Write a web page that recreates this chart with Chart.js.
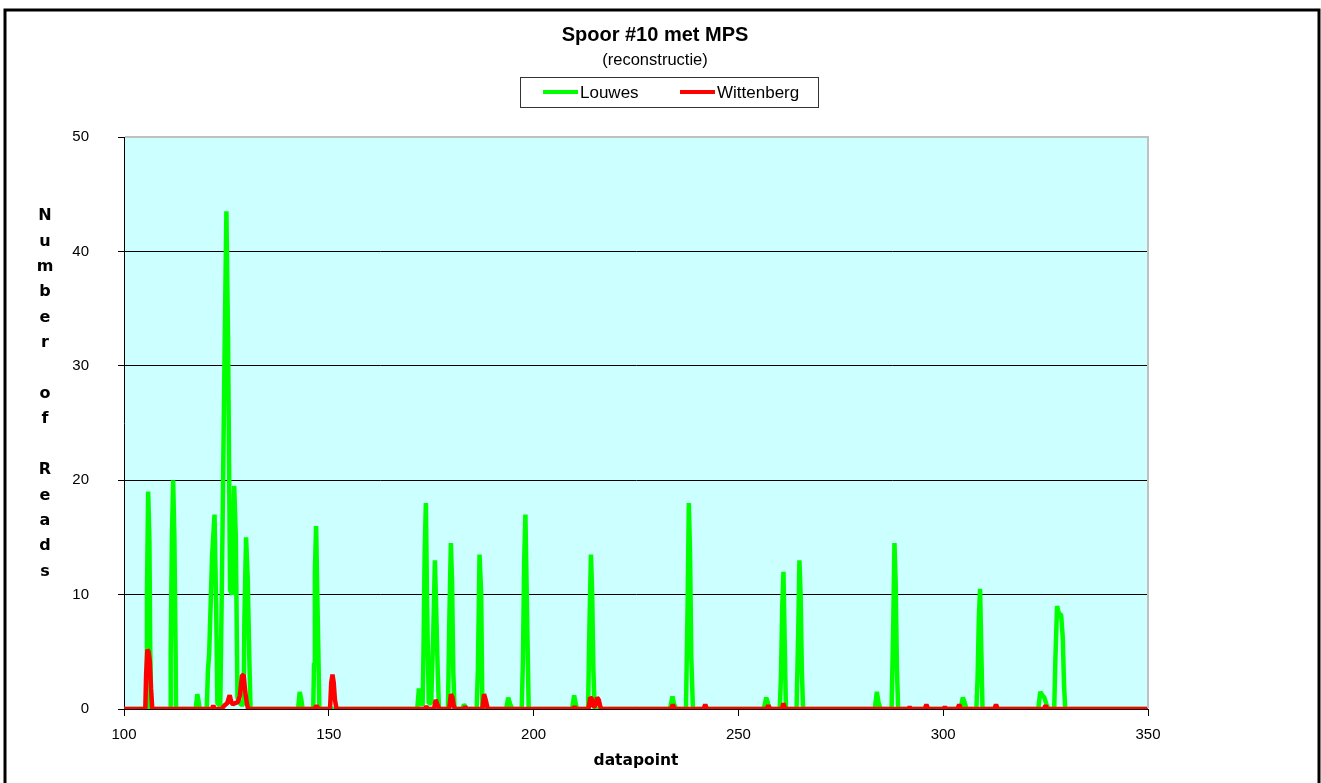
<!DOCTYPE html>
<html>
<head>
<meta charset="utf-8">
<title>Spoor #10 met MPS</title>
<script src="https://cdn.jsdelivr.net/npm/chart.js@4.4.1/dist/chart.umd.min.js"></script>
<style>
  html, body { margin: 0; padding: 0; background: #fff; }
  #chart { display: block; }
</style>
</head>
<body>
<canvas id="chart" width="1321" height="783"></canvas>
<script>
// Texts
const chartTitle = 'Spoor #10 met MPS';
const chartSubtitle = '(reconstructie)';
const xAxisTitle = 'datapoint';
const yAxisTitle = 'Number of Reads';
const seriesNames = ['Louwes', 'Wittenberg'];
const seriesColors = ['#00ff00', '#ff0000'];

// Axis ticks
const xTicks = [100, 150, 200, 250, 300, 350];
const yTicks = [0, 10, 20, 30, 40, 50];

// Louwes series (datapoint, reads)
const louwesX = [100, 105.5, 105.6, 105.9, 106.2, 106.4, 106.6, 111.3, 111.4, 111.7, 112.0, 112.3, 112.6, 112.7,
    117.5, 117.9, 118.3, 118.5, 120.2, 120.5, 120.8, 121.5, 122.1, 122.5, 122.8, 123.5, 123.9, 124.6, 125.0, 125.4,
    125.9, 126.4, 126.9, 127.3, 127.7, 128.5, 129.2, 129.4, 129.8, 130.2, 130.6, 130.9, 142.5, 142.9, 143.3, 143.6,
    146.2, 146.4, 146.6, 146.9, 147.3, 147.7, 171.6, 172.0, 172.4, 172.9, 173.1, 173.4, 173.7, 174.0, 174.4, 175.0,
    175.2, 175.5, 175.9, 176.2, 176.6, 176.9, 179.1, 179.4, 179.8, 180.1, 180.4, 180.7, 182.6, 183.0, 183.6,
    186.1, 186.4, 186.8, 187.2, 187.5, 193.3, 193.8, 194.3, 194.8, 197.1, 197.4, 197.7, 198.0, 198.4, 198.8,
    209.4, 209.9, 210.3, 210.6, 213.3, 213.6, 214.0, 214.3, 214.6, 214.9, 233.3, 233.9, 234.3, 234.8,
    237.2, 237.6, 237.9, 238.2, 238.5, 238.9, 256.2, 256.8, 257.3, 257.7, 260.1, 260.4, 260.7, 261.0, 261.3, 261.6,
    264.2, 264.6, 264.9, 265.2, 265.5, 265.8, 283.3, 283.8, 284.2, 284.7, 287.4, 287.8, 288.1, 288.4, 288.7, 289.0,
    304.2, 304.8, 305.3, 305.7, 308.1, 308.4, 308.7, 309.0, 309.3, 309.6, 323.2, 323.7, 324.2, 324.7, 325.2, 325.7,
    327.1, 327.4, 327.8, 328.2, 328.8, 329.2, 329.5, 329.8, 350];
const louwesY = [0, 0, 10, 19, 14.8, 5.4, 0, 0, 5, 15, 20, 15, 5, 0,
    0, 1.3, 0.5, 0, 0, 3.4, 4.9, 13.3, 17, 8.9, 0.5, 0.3, 11, 32.5, 43.5, 32.5,
    10.4, 10, 19.5, 15, 1, 0.4, 0.4, 8, 15, 11.5, 4.3, 0, 0, 1.5, 0.8, 0,
    0, 4, 12, 16, 8, 0, 0, 1.8, 0.6, 0.3, 4.5, 13.5, 18, 9, 0.5, 0.5,
    3.2, 6.5, 13, 9, 3.2, 0, 0, 7.3, 14.5, 11, 3.2, 0, 0, 0.4, 0,
    0, 3.4, 13.5, 10.1, 0, 0, 1, 0.4, 0, 0, 4.3, 12.9, 17, 8.5, 0,
    0, 1.2, 0.4, 0, 0, 6.7, 13.5, 10.1, 3.4, 0, 0, 1.1, 0.4, 0,
    0, 9.1, 18, 13.5, 4.5, 0, 0, 1, 0.4, 0, 0, 3, 8.9, 12, 5.9, 0,
    0, 6.6, 13, 9.8, 3.2, 0, 0, 1.5, 0.6, 0, 0, 7.3, 14.5, 11, 3.6, 0,
    0, 1, 0.5, 0, 0, 2.7, 7.9, 10.5, 5.2, 0, 0, 1.5, 1.2, 1, 0.4, 0,
    0, 4.5, 9, 8.4, 8.2, 6.2, 2.1, 0, 0];

// Wittenberg series (datapoint, reads)
const wittenbergX = [100, 105.2, 105.4, 105.7, 106.0, 106.3, 106.6, 106.9, 121.5, 121.8, 122.1,
    123.8, 124.5, 125.2, 125.8, 126.2, 126.6, 127.0, 127.8, 128.3, 128.8, 129.2, 129.6, 130.0, 130.3,
    146.5, 147.0, 147.5, 150.3, 150.6, 150.9, 151.2, 151.5, 151.9, 173.3, 173.8, 174.3, 175.7, 176.1, 176.6, 177.0,
    179.4, 179.8, 180.2, 180.5, 180.8, 182.9, 183.3, 183.7, 187.5, 187.9, 188.3, 188.8, 209.6, 210.0, 210.4,
    213.4, 213.8, 214.2, 214.6, 215.1, 215.5, 215.9, 216.3, 216.6, 233.6, 234.0, 234.4, 241.5, 241.9, 242.3,
    256.9, 257.3, 257.7, 260.6, 261.0, 261.4, 291.5, 291.8, 292.1, 295.5, 295.9, 296.3, 300.1, 300.4, 300.7,
    303.5, 303.9, 304.3, 312.5, 312.9, 313.3, 324.6, 325.0, 325.4, 350];
const wittenbergY = [0, 0, 3, 5.2, 5, 4.2, 1.8, 0, 0, 0.3, 0,
    0, 0.3, 0.5, 1.2, 0.6, 0.4, 0.5, 0.6, 1.2, 2.9, 3, 1.5, 0.5, 0,
    0, 0.3, 0, 0, 2.3, 3, 2.3, 0.8, 0, 0, 0.2, 0, 0, 0.8, 0.3, 0,
    0, 1.3, 1, 0.3, 0, 0, 0.2, 0, 0, 1.3, 0.8, 0, 0, 0.2, 0,
    0, 1, 0.9, 0.2, 0.3, 1, 0.8, 0.2, 0, 0, 0.4, 0, 0, 0.4, 0,
    0, 0.3, 0, 0, 0.5, 0, 0, 0.2, 0, 0, 0.4, 0, 0, 0.2, 0,
    0, 0.4, 0, 0, 0.4, 0, 0, 0.3, 0, 0];

function toPoints(xs, ys) {
    return xs.map((x, i) => ({ x: x, y: ys[i] }));
}

// Background, outer frame, titles, legend box and the stacked y label
const excelLook = {
    id: 'excelLook',
    beforeDraw(chart) {
        const { ctx, chartArea: a } = chart;
        ctx.save();
        ctx.fillStyle = '#ffffff';
        ctx.fillRect(0, 0, chart.width, chart.height);
        ctx.fillStyle = '#ccffff';
        ctx.fillRect(a.left, a.top, a.right - a.left, a.bottom - a.top);
        ctx.strokeStyle = '#000';
        ctx.lineWidth = 3;
        ctx.beginPath();
        ctx.moveTo(5, chart.height);
        ctx.lineTo(5, 10);
        ctx.lineTo(1319, 10);
        ctx.lineTo(1319, chart.height);
        ctx.stroke();
        ctx.restore();
    },
    afterDraw(chart) {
        const { ctx, chartArea: a } = chart;
        ctx.save();

        // plot area border (top and right)
        ctx.strokeStyle = '#c0c0c0';
        ctx.lineWidth = 2;
        ctx.beginPath();
        ctx.moveTo(a.left + 1, a.top);
        ctx.lineTo(a.right, a.top);
        ctx.lineTo(a.right, a.bottom - 1);
        ctx.stroke();

        // titles
        const cx = 655;
        ctx.fillStyle = '#000';
        ctx.textAlign = 'center';
        ctx.textBaseline = 'middle';
        ctx.font = 'bold 20px Arial, "Liberation Sans"';
        ctx.fillText(chartTitle, cx, 35);
        ctx.font = '16.5px Arial, "Liberation Sans"';
        ctx.fillText(chartSubtitle, cx, 60);

        // legend
        ctx.strokeStyle = '#333';
        ctx.lineWidth = 1;
        ctx.strokeRect(520.5, 77.5, 298, 30);
        const items = [{ x: 543, text: seriesNames[0], color: seriesColors[0] },
                       { x: 680, text: seriesNames[1], color: seriesColors[1] }];
        ctx.font = '17px Arial, "Liberation Sans"';
        ctx.textAlign = 'left';
        items.forEach(it => {
            ctx.strokeStyle = it.color;
            ctx.lineWidth = 4;
            ctx.beginPath();
            ctx.moveTo(it.x, 92);
            ctx.lineTo(it.x + 35, 92);
            ctx.stroke();
            ctx.fillStyle = '#000';
            ctx.fillText(it.text, it.x + 37, 93);
        });

        // y axis title, one letter per line
        ctx.font = 'bold 16px "DejaVu Sans"';
        ctx.textAlign = 'center';
        const letters = yAxisTitle.split('');
        letters.forEach((ch, i) => {
            ctx.fillText(ch, 45, 216 + i * 25.4);
        });
        ctx.restore();
    }
};

const tickFont = { family: 'Arial, "Liberation Sans"', size: 15 };

const chart = new Chart(document.getElementById('chart'), {
    type: 'scatter',
    data: {
        datasets: [
            {
                label: seriesNames[0],
                data: toPoints(louwesX, louwesY),
                borderColor: seriesColors[0],
                backgroundColor: seriesColors[0],
                order: 1
            },
            {
                label: seriesNames[1],
                data: toPoints(wittenbergX, wittenbergY),
                borderColor: seriesColors[1],
                backgroundColor: seriesColors[1],
                order: 0
            }
        ]
    },
    options: {
        responsive: false,
        animation: false,
        showLine: true,
        layout: { padding: { left: 0, top: 137, right: 173, bottom: 0 } },
        elements: {
            point: { radius: 0, hoverRadius: 0 },
            line: { borderWidth: 4.5, tension: 0, fill: false, borderJoinStyle: 'bevel' }
        },
        plugins: {
            legend: { display: false },
            title: { display: false },
            tooltip: { enabled: false }
        },
        scales: {
            x: {
                type: 'linear',
                min: xTicks[0],
                max: xTicks[xTicks.length - 1],
                afterFit: (scale) => { scale.height = 74; },
                ticks: {
                    stepSize: xTicks[1] - xTicks[0],
                    font: tickFont,
                    color: '#000',
                    padding: 10,
                    maxRotation: 0
                },
                grid: { drawOnChartArea: false, drawTicks: true, tickLength: 7, tickColor: '#000' },
                border: { color: '#000', width: 1 },
                title: {
                    display: true,
                    text: xAxisTitle,
                    color: '#000',
                    font: { family: '"DejaVu Sans"', size: 15.5, weight: 'bold' },
                    padding: { top: 0, bottom: 13 }
                }
            },
            y: {
                type: 'linear',
                min: yTicks[0],
                max: yTicks[yTicks.length - 1],
                afterFit: (scale) => { scale.width = 124; },
                ticks: {
                    stepSize: yTicks[1] - yTicks[0],
                    font: tickFont,
                    color: '#000',
                    padding: 29
                },
                grid: {
                    color: (c) => (c.tick && c.tick.value === yTicks[yTicks.length - 1]) ? '#c0c0c0' : '#000',
                    lineWidth: 1,
                    drawTicks: true,
                    tickLength: 6,
                    tickColor: '#000'
                },
                border: { color: '#000', width: 1 }
            }
        }
    },
    plugins: [excelLook]
});
</script>
</body>
</html>
